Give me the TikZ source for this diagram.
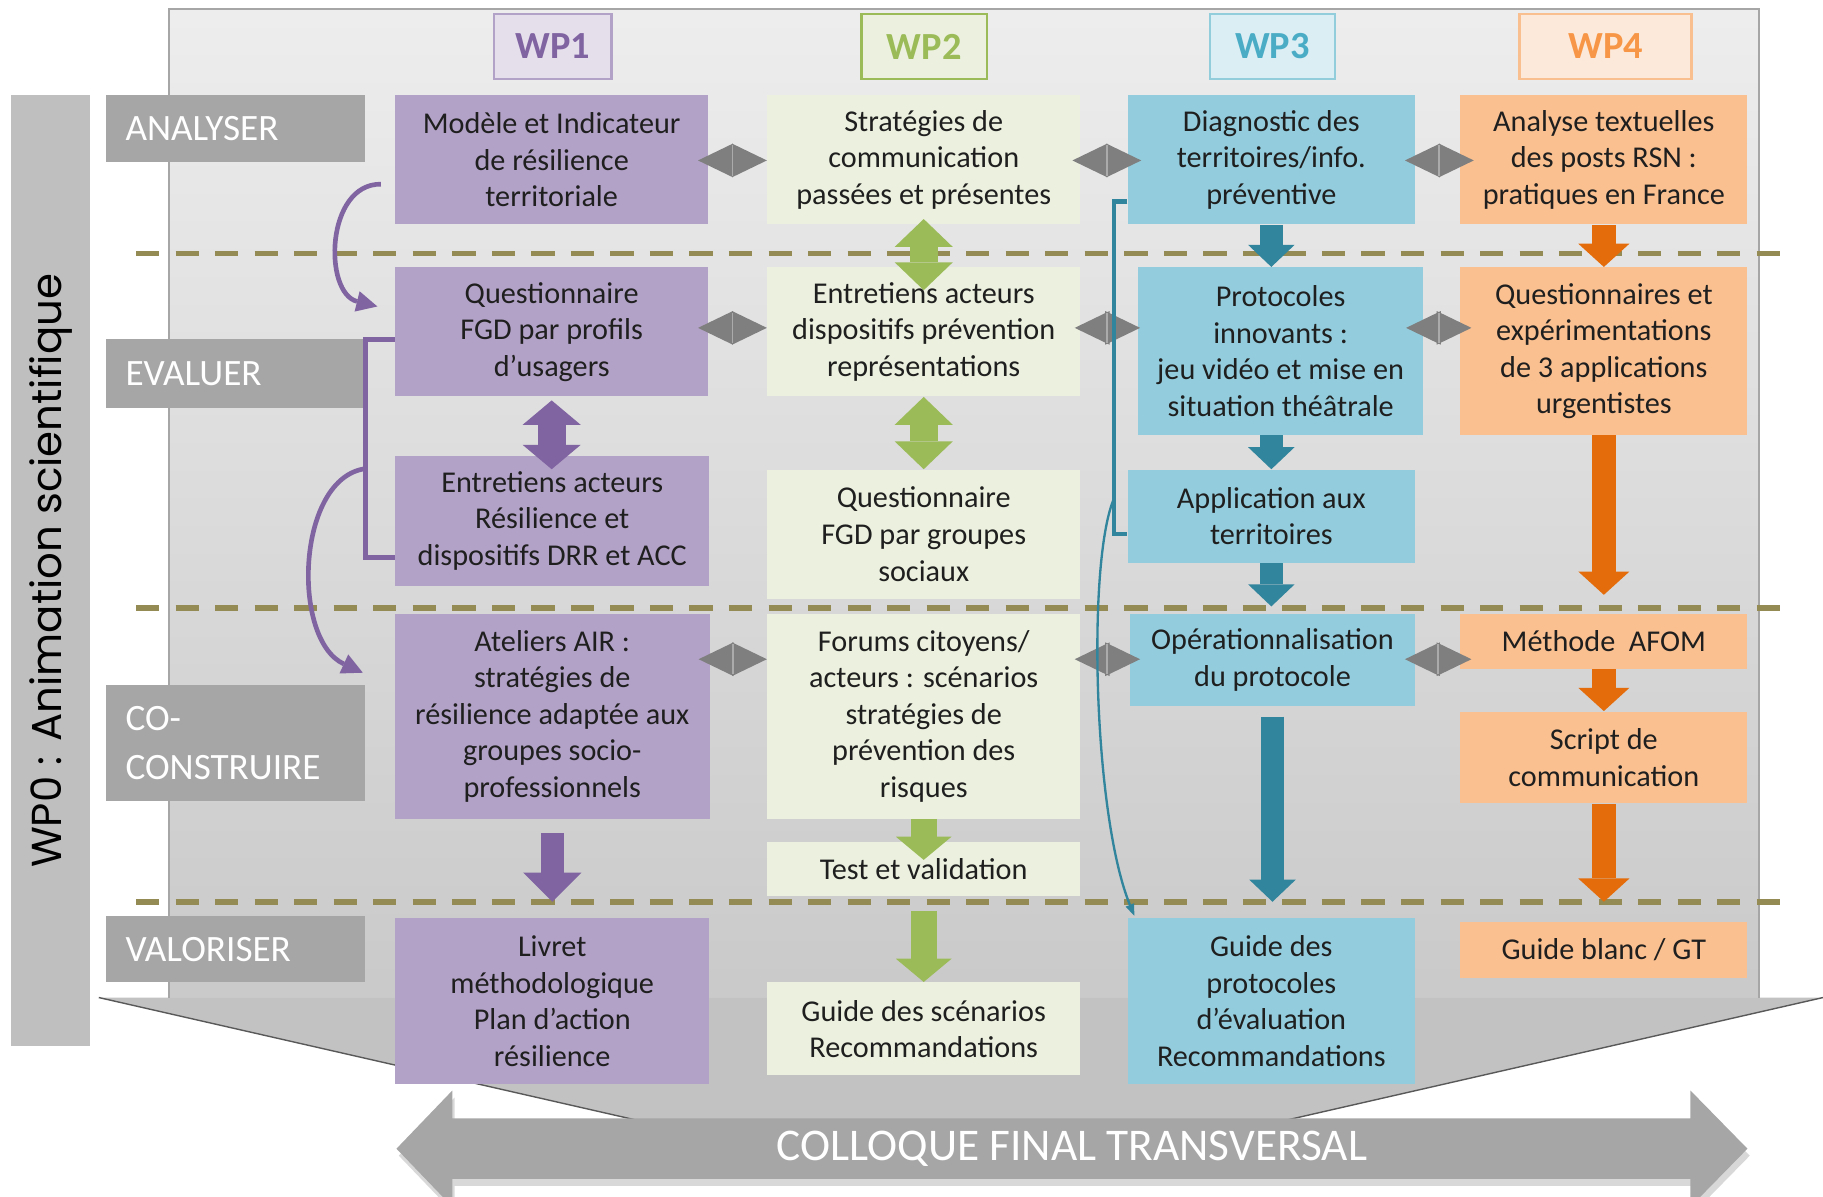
\documentclass[tikz,border=0pt]{standalone}
\usepackage{fontspec}
\setmainfont{Carlito}
\newfontfamily\wpfont{Poppins}
\usetikzlibrary{arrows.meta,calc}
\definecolor{pboxc}{HTML}{B3A2C7}
\definecolor{gboxc}{HTML}{EBF1DE}
\definecolor{tboxc}{HTML}{93CDDD}
\definecolor{oboxc}{HTML}{FAC090}
\definecolor{parr}{HTML}{8064A2}
\definecolor{garr}{HTML}{9BBB59}
\definecolor{tarr}{HTML}{31859C}
\definecolor{oarr}{HTML}{E46C0A}
\definecolor{grarr}{HTML}{7F7F7F}
\definecolor{seamc}{HTML}{ABABAB}
\definecolor{lblc}{HTML}{A6A6A6}
\definecolor{wpzc}{HTML}{BFBFBF}
\definecolor{dashc}{HTML}{948A54}
\definecolor{txtc}{HTML}{1F1F1F}
\definecolor{hIf}{HTML}{E5DFEC}\definecolor{hIb}{HTML}{B3A2C7}\definecolor{hIt}{HTML}{8064A2}
\definecolor{hIIf}{HTML}{EBF1DE}\definecolor{hIIb}{HTML}{9BBB59}\definecolor{hIIt}{HTML}{9BBB59}
\definecolor{hIIIf}{HTML}{DBEEF4}\definecolor{hIIIb}{HTML}{92CDDC}\definecolor{hIIIt}{HTML}{4BACC6}
\definecolor{hIVf}{HTML}{FDE9D9}\definecolor{hIVb}{HTML}{FABF8F}\definecolor{hIVt}{HTML}{F79646}
\begin{document}
\begin{tikzpicture}[x=0.5pt,y=-0.5pt,
  box/.style={inner sep=0pt, align=center, text=txtc, font=\fontsize{13pt}{15.75pt}\selectfont},
  sz/.style 2 args={minimum width=#1*0.5pt, minimum height=#2*0.5pt},
  pb/.style={box, fill=pboxc},
  gb/.style={box, fill=gboxc},
  tb/.style={box, fill=tboxc},
  ob/.style={box, fill=oboxc},
  hd/.style={inner sep=0pt, line width=1pt, font=\bfseries\fontsize{16.5pt}{20pt}\selectfont},
  rowlbl/.style={fill=lblc, text=white, inner xsep=8.5pt, inner ysep=0pt, align=left,
     text width=94.5pt, minimum width=111.5pt, font=\fontsize{16pt}{21pt}\selectfont},
  dashline/.style={dashc, line width=2.5pt, dash pattern=on 10pt off 7pt},
  tarrow/.style={tarr, line width=10pt, -{Triangle[length=9.5pt,width=20pt,line width=0pt]}},
  oarrow/.style={oarr, line width=10.5pt, -{Triangle[length=10pt,width=22pt,line width=0pt]}},
  parrow/.style={parr, line width=10pt, -{Triangle[length=12.5pt,width=25pt,line width=0pt]}},
  garrow/.style={garr, line width=11pt, -{Triangle[length=10pt,width=24pt,line width=0pt]}},
  gdbl/.style={garr, line width=12pt, {Triangle[length=12pt,width=25pt,line width=0pt]}-{Triangle[length=12pt,width=25pt,line width=0pt]}},
  pdbl/.style={parr, line width=12pt, {Triangle[length=10.5pt,width=25pt,line width=0pt]}-{Triangle[length=10.5pt,width=25pt,line width=0pt]}},
  grdbl/.style={grarr, line width=1pt, {Triangle[length=15pt,width=14.5pt,line width=0pt]}-{Triangle[length=15pt,width=14.5pt,line width=0pt]}},
  seam/.style={seamc, line width=0.8pt},
  pline/.style={parr, line width=2pt},
  pcurve/.style={parr, line width=2pt, -{Triangle[length=9pt,width=9pt,line width=0pt]}},
  tline/.style={tarr, line width=2pt},
  tthin/.style={tarr, line width=1pt, -{Triangle[length=5pt,width=4pt,line width=0pt]}}
]
\useasboundingbox (0,0) rectangle (1568,1029);
\clip (0,0) rectangle (1568,1029);

% funnel and panel
\fill[gray!48] (85,858) -- (1568,858) -- (1104,964) -- (550,964) -- cycle;
\draw[gray!70!black, line width=0.6pt] (85,858) -- (550,964);
\draw[gray!70!black, line width=0.6pt] (1568,858) -- (1104,964);
\shade[top color=black!7, bottom color=black!21] (145,8) rectangle (1513,858);
\draw[black!35, line width=0.8pt] (145,858) -- (145,8) -- (1513,8) -- (1513,858);

% colloque arrow
\fill[black!30, opacity=0.5] (343,994) -- (391,944) -- (391,968) -- (1456,968) -- (1456,944) -- (1505,994) -- (1456,1044) -- (1456,1020) -- (391,1020) -- (391,1044) -- cycle;
\fill[lblc] (341,988) -- (389,938) -- (389,962) -- (1454,962) -- (1454,938) -- (1503,988) -- (1454,1038) -- (1454,1014) -- (389,1014) -- (389,1038) -- cycle;
\node[text=white, inner sep=0pt, font=\fontsize{19.5pt}{23pt}\selectfont] (colloque) at (922,988) {COLLOQUE FINAL TRANSVERSAL};

% WP0 bar
\node[fill=wpzc, rotate=90, minimum width=409pt, minimum height=34pt, inner sep=0pt,
      font=\wpfont\fontsize{18pt}{22pt}\selectfont, text=black] (wpz) at (43.5,491) {WP0 : Animation scientifique};

% row labels
\node[rowlbl, minimum height=28.5pt] (lA) at (202.5,110.5) {ANALYSER};
\node[rowlbl, minimum height=29.5pt] (lE) at (202.5,321.5) {EVALUER};
\node[rowlbl, minimum height=50pt] (lC) at (202.5,639) {CO-\\CONSTRUIRE};
\node[rowlbl, minimum height=28.5pt] (lV) at (202.5,816.5) {VALORISER};

% dashed separators
\draw[dashline] (117,218) -- (1545,218);
\draw[dashline] (117,523) -- (1545,523);
\draw[dashline] (117,776) -- (1545,776);

% headers
\node[hd, sz={101}{56}, fill=hIf, draw=hIb, text=hIt] (h1) at (475.5,40) {WP1};
\node[hd, sz={108}{56}, fill=hIIf, draw=hIIb, text=hIIt] (h2) at (795,40) {WP2};
\node[hd, sz={107}{56}, fill=hIIIf, draw=hIIIb, text=hIIIt] (h3) at (1094.5,40) {WP3};
\node[hd, sz={148}{56}, fill=hIVf, draw=hIVb, text=hIVt] (h4) at (1381,40) {WP4};

% WP1 boxes
\node[pb, sz={269}{111}] (a1) at (474.5,137.5) {Modèle et Indicateur\\de résilience\\territoriale};
\node[pb, sz={269}{111}] (e1) at (474.5,285.5) {Questionnaire\\FGD par profils\\d’usagers};
\node[pb, sz={270}{112}] (e1b) at (475,448) {Entretiens acteurs\\Résilience et\\dispositifs DRR et ACC};
\node[pb, sz={271}{176}] (c1) at (475,616) {Ateliers AIR :\\stratégies de\\résilience adaptée aux\\groupes socio-\\professionnels};
\node[pb, sz={270}{142}] (v1) at (475,861) {Livret\\méthodologique\\Plan d’action\\résilience};

% WP2 boxes
\node[gb, sz={269}{111}] (a2) at (794.5,137.5) {Stratégies de\\communication\\passées et présentes};
\node[gb, sz={269}{111}] (e2) at (794.5,285.5) {Entretiens acteurs\\dispositifs prévention\\représentations};
\node[gb, sz={269}{111}] (e2b) at (794.5,459.5) {Questionnaire\\FGD par groupes\\sociaux};
\node[gb, sz={269}{176}] (c2) at (794.5,616) {Forums citoyens/\\acteurs : scénarios\\stratégies de\\prévention des\\risques};
\node[gb, sz={269}{47}] (t2) at (794.5,747.5) {Test et validation};
\node[gb, sz={269}{80}] (v2) at (794.5,885) {Guide des scénarios\\Recommandations};

% WP3 boxes
\node[tb, sz={247}{111}] (a3) at (1093.5,137.5) {Diagnostic des\\territoires/info.\\préventive};
\node[tb, sz={245}{144}] (e3) at (1101.5,302) {Protocoles\\innovants :\\jeu vidéo et mise en\\situation théâtrale};
\node[tb, sz={247}{80}] (e3b) at (1093.5,444) {Application aux\\territoires};
\node[tb, sz={245}{79}] (c3) at (1094.5,567.5) {Opérationnalisation\\du protocole};
\node[tb, sz={247}{142}] (v3) at (1093.5,861) {Guide des\\protocoles\\d’évaluation\\Recommandations};

% WP4 boxes
\node[ob, sz={247}{111}] (a4) at (1379.5,137.5) {Analyse textuelles\\des posts RSN :\\pratiques en France};
\node[ob, sz={247}{144}] (e4) at (1379.5,302) {Questionnaires et\\expérimentations\\de 3 applications\\urgentistes};
\node[ob, sz={247}{47}] (c4) at (1379.5,551.5) {Méthode\ \ AFOM};
\node[ob, sz={247}{79}] (c4b) at (1379.5,651.5) {Script de\\communication};
\node[ob, sz={247}{48}] (v4) at (1379.5,817) {Guide blanc / GT};

% row coordinates for horizontal arrows
\coordinate (rA) at (0,138);
\coordinate (rE) at (0,282);
\coordinate (rC) at (0,567);

% gray double arrows
\draw[grdbl, shorten <=-4.5pt] (a1.east |- rA) -- (a2.west |- rA);
\draw[grdbl, shorten <=-3.5pt, shorten >=-6pt] (a2.east |- rA) -- (a3.west |- rA);
\draw[grdbl, shorten <=-4.5pt, shorten >=-6pt] (a3.east |- rA) -- (a4.west |- rA);
\draw[grdbl, shorten <=-4.5pt] (e1.east |- rE) -- (e2.west |- rE);
\draw[grdbl, shorten <=-2.5pt, shorten >=-1pt] (e2.east |- rE) -- (e3.west |- rE);
\draw[grdbl, shorten <=-7.5pt, shorten >=-5pt] (e3.east |- rE) -- (e4.west |- rE);
\draw[grdbl, shorten <=-5pt] (c1.east |- rC) -- (c2.west |- rC);
\draw[grdbl, shorten <=-2.5pt, shorten >=-4.5pt] (c2.east |- rC) -- (c3.west |- rC);
\draw[grdbl, shorten <=-4.5pt, shorten >=-5pt] (c3.east |- rC) -- (c4.west |- rC);
% seams of the gray double arrows
\draw[seam] ($(a1.east |- rA)!0.5!(a2.west |- rA)+(-4.5,-13)$) -- ++(0,26);
\draw[seam] ($(a2.east |- rA)!0.5!(a3.west |- rA)+(2.5,-13)$) -- ++(0,26);
\draw[seam] ($(a3.east |- rA)!0.5!(a4.west |- rA)+(1.5,-13)$) -- ++(0,26);
\draw[seam] ($(e1.east |- rE)!0.5!(e2.west |- rE)+(-4.5,-13)$) -- ++(0,26);
\draw[seam] ($(e2.east |- rE)!0.5!(e3.west |- rE)+(-1.5,-13)$) -- ++(0,26);
\draw[seam] ($(e3.east |- rE)!0.5!(e4.west |- rE)+(-2.5,-13)$) -- ++(0,26);
\draw[seam] ($(c1.east |- rC)!0.5!(c2.west |- rC)+(-5,-13)$) -- ++(0,26);
\draw[seam] ($(c2.east |- rC)!0.5!(c3.west |- rC)+(2,-13)$) -- ++(0,26);
\draw[seam] ($(c3.east |- rC)!0.5!(c4.west |- rC)+(0.5,-13)$) -- ++(0,26);

% WP1 connectors
\draw[pcurve] ($(a1.south west)+(-12,-35)$) .. controls (280,158) and (278,252) .. ($(e1.north west)+(-15,34)$);
\draw[pline] ($(e1.west)+(0,6.5)$) -- ++(-25,0) |- ($(e1b.south west)+(0,-25)$);
\coordinate (kb) at (315,403);
\draw[pcurve] (kb) .. controls (255,410) and (250,550) .. ($(c1.north west)+(-27,51)$);
\draw[pdbl, shorten <=1.5pt, shorten >=-6pt] (e1.south) -- (e1.south |- e1b.north);
\draw[parrow, shorten <=6pt, shorten >=7pt] (c1.south) -- (v1.north);

% WP2 connectors
\draw[gdbl, shorten <=-2.5pt, shorten >=-10pt] (a2.south) -- (e2.north);
\draw[gdbl] (e2.south) -- (e2b.north);
\draw[garrow, shorten >=-8pt] (c2.south) -- (t2.north);
\draw[garrow, shorten <=6pt] (t2.south) -- (v2.north);

% WP3 connectors
\draw[tline] ($(a3.south west)+(0,-20)$) -- ++(-11.5,0) |- ($(e3b.south west)+(0,-25)$);
\coordinate (kt) at (958.5,428);
\draw[tthin] (kt) .. controls (935,480) and (940,700) .. ($(v3.north west)+(6,-2)$);
\draw[tarrow] (a3.south) -- (a3.south |- e3.north);
\draw[tarrow] (e3.south -| e3b.north) -- (e3b.north);
\draw[tarrow, shorten >=3pt] (e3b.south) -- (e3b.south |- c3.north);
\draw[tarrow, shorten <=4.5pt, shorten >=7pt] (c3.south) -- (c3.south |- v3.north);

% WP4 connectors
\draw[oarrow] (a4.south) -- (e4.north);
\draw[oarrow, shorten >=8pt] (e4.south) -- (c4.north);
\draw[oarrow] (c4.south) -- (c4b.north);
\draw[oarrow, shorten >=8.5pt] (c4b.south) -- (v4.north);
\end{tikzpicture}
\end{document}
